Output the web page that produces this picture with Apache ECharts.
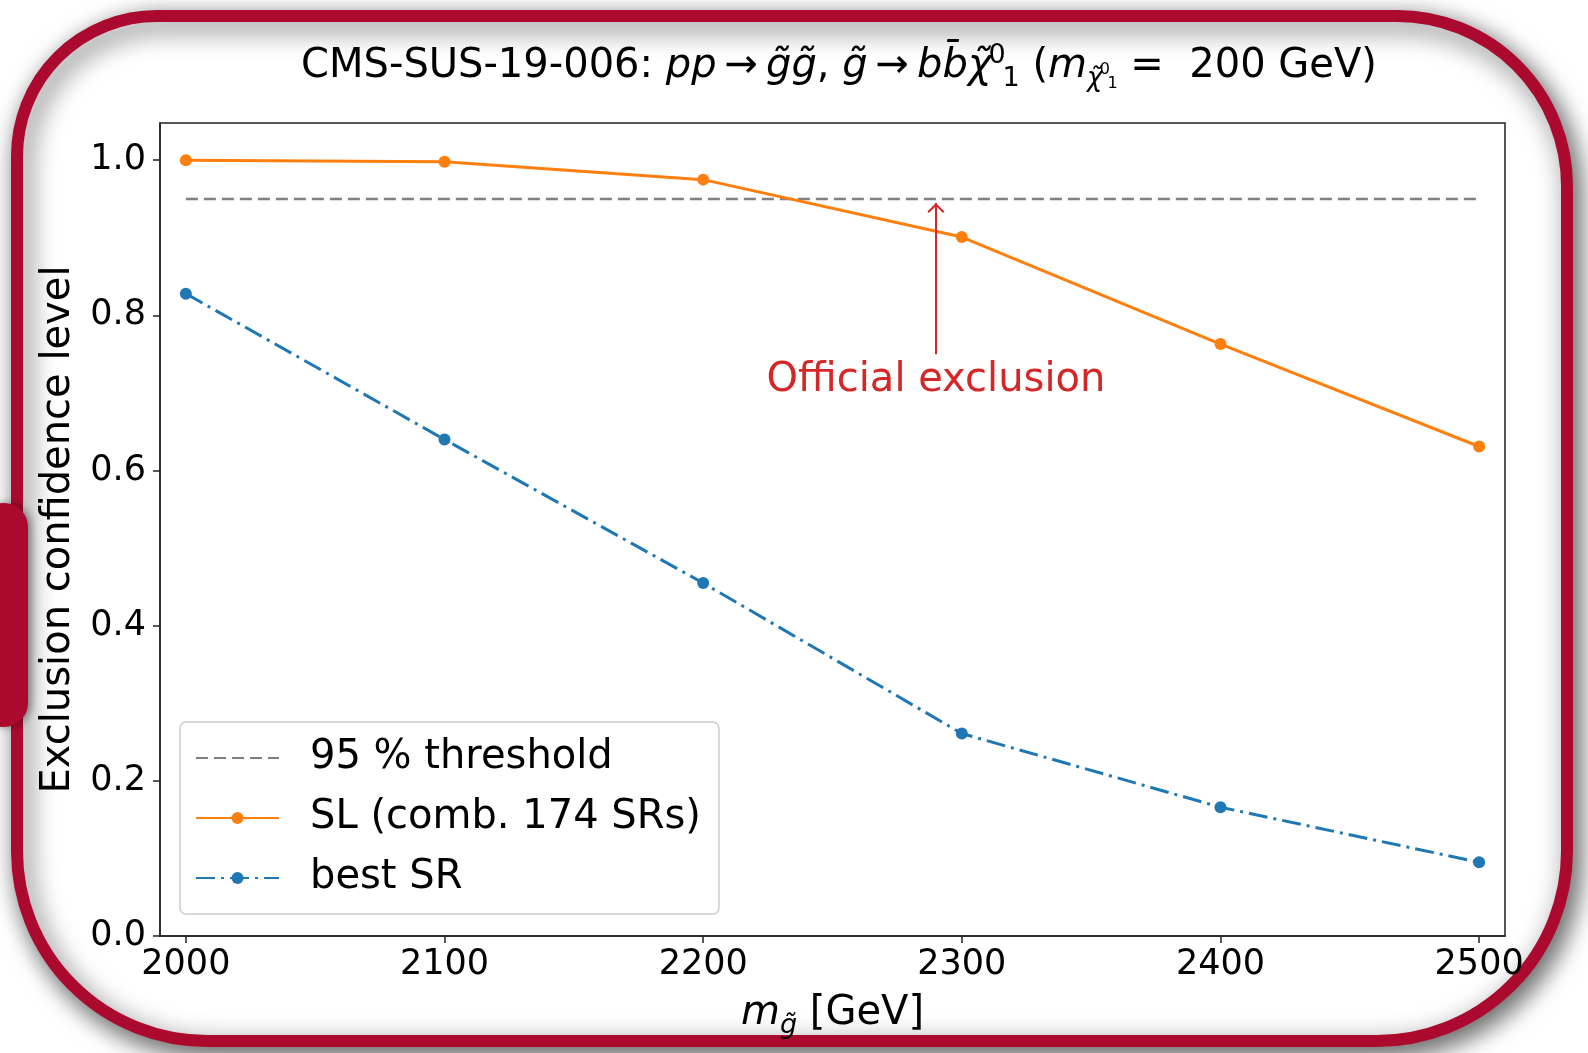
<!DOCTYPE html>
<html>
<head>
<meta charset="utf-8">
<title>CMS-SUS-19-006 exclusion</title>
<script src="https://cdn.jsdelivr.net/npm/echarts@6/dist/echarts.min.js"></script>
<style>
  html, body { margin: 0; padding: 0; background: #fff; }
  #chart1 { width: 1588px; height: 1053px; }
</style>
</head>
<body>
<div id="chart1"></div>
<script>
// gluino masses (GeV)
const massValues = [2000, 2100, 2200, 2300, 2400, 2500];
// exclusion CL, SL combination of 174 SRs
const slValues = [1.0, 0.998, 0.975, 0.901, 0.763, 0.631];
// exclusion CL, best single SR
const bestSrValues = [0.828, 0.640, 0.455, 0.261, 0.166, 0.095];
const thresholdValue = 0.95;
const thresholdRange = [2000, 2500];
const xTicks = [2000, 2100, 2200, 2300, 2400, 2500];
const yTicks = [0.0, 0.2, 0.4, 0.6, 0.8, 1.0];
// "Official exclusion" arrow: x, tail y, head y, text y
const officialX = 2290;
const arrowFromY = 0.75;
const arrowToY = 0.934;
const labelY = 0.716;

const FONT = "DejaVu Sans";
const RED = "#d62728";
const BORDER_RED = "#ab0a2e";

const arrowHead =
  "path://M10,0 L0,10 L1.7,11.7 L11.7,1.7 Z M10,0 L8.3,1.7 L18.3,11.7 L20,10 Z M8.8,0 L8.8,20 L11.2,20 L11.2,0 Z";

const toPairs = (xs, ys) => xs.map((x, i) => [x, ys[i]]);

const txt = (extra) => Object.assign({ fontFamily: FONT, fontWeight: "normal", color: "#000" }, extra);

const getOptionChart1 = () => {
  return {
    animation: false,
    textStyle: { fontFamily: FONT },
    graphic: [
      {
        type: "rect",
        z: -10,
        shape: { x: 17, y: 16, width: 1550, height: 1025, r: [140, 170, 190, 190] },
        style: {
          fill: "#fff",
          stroke: BORDER_RED,
          lineWidth: 12,
          shadowBlur: 26,
          shadowColor: "rgba(0,0,0,0.6)",
          shadowOffsetX: 6,
          shadowOffsetY: 8,
        },
      },
      {
        type: "rect",
        z: -9,
        shape: { x: -20, y: 503, width: 48, height: 224, r: 24 },
        style: {
          fill: BORDER_RED,
          shadowBlur: 8,
          shadowColor: "rgba(0,0,0,0.4)",
          shadowOffsetX: 3,
        },
      },
    ],
    title: {
      left: 834,
      top: 37,
      textAlign: "center",
      text:
        "{n|CMS-SUS-19-006: }{i|pp}{n|\u2009→\u2009}{i|g̃g̃}{n|, }{i|g̃}{n|\u2009→\u2009}{i|bb̄χ̃}{sup|0}{sub|1}{n| (}{i|m}{ms|χ̃}{msup|0}{msub|1}{n| =  200 GeV)}",
      textStyle: {
        fontWeight: "normal",
        rich: {
          n: txt({ fontSize: 40, lineHeight: 50 }),
          i: txt({ fontStyle: "italic", fontSize: 40, lineHeight: 50 }),
          sup: txt({ fontSize: 27, lineHeight: 30, verticalAlign: "top", width: 1, padding: [0, 0, 0, 5] }),
          sub: txt({ fontSize: 27, lineHeight: 30, verticalAlign: "bottom", padding: [0, 0, 0, 5] }),
          ms: txt({ fontStyle: "italic", fontSize: 26, lineHeight: 30, verticalAlign: "bottom" }),
          msup: txt({ fontSize: 16, lineHeight: 16, verticalAlign: "bottom", width: 1, padding: [0, 0, 14, 2] }),
          msub: txt({ fontSize: 16, lineHeight: 16, verticalAlign: "bottom", padding: [0, 0, 0, 2] }),
        },
      },
    },
    legend: {
      orient: "vertical",
      left: 180,
      top: 722,
      padding: [16, 18, 16, 15],
      itemGap: 20,
      itemWidth: 83,
      itemHeight: 15,
      backgroundColor: "rgba(255,255,255,0.8)",
      borderColor: "#cccccc",
      borderWidth: 1.5,
      borderRadius: 6,
      textStyle: {
        fontFamily: FONT,
        fontSize: 40,
        lineHeight: 40,
        color: "#000",
        padding: [0, 0, 0, 26],
      },
      data: [
        { name: "95 % threshold", itemStyle: { color: "rgba(0,0,0,0)", borderWidth: 0 } },
        { name: "SL (comb. 174 SRs)" },
        { name: "best SR" },
      ],
    },
    grid: {
      left: 160,
      right: 83,
      top: 123,
      bottom: 117,
      show: true,
      borderColor: "#222",
      borderWidth: 1.5,
      backgroundColor: "transparent",
    },
    xAxis: {
      type: "value",
      min: 1990,
      max: 2510,
      name: "{i|m}{s|g̃}{n| [GeV]}",
      nameLocation: "middle",
      nameGap: 53,
      nameTextStyle: {
        rich: {
          i: txt({ fontStyle: "italic", fontSize: 40, lineHeight: 50 }),
          s: txt({ fontStyle: "italic", fontSize: 27, lineHeight: 30, verticalAlign: "bottom" }),
          n: txt({ fontSize: 40, lineHeight: 50 }),
        },
      },
      axisLine: { show: true, lineStyle: { color: "#222", width: 1.5 } },
      axisTick: {
        show: true,
        length: 7,
        customValues: xTicks,
        lineStyle: { color: "#222", width: 1.5 },
      },
      axisLabel: {
        customValues: xTicks,
        fontFamily: FONT,
        fontSize: 35,
        color: "#000",
        margin: 11,
        formatter: (v) => String(v),
      },
      splitLine: { show: false },
    },
    yAxis: {
      type: "value",
      min: 0,
      max: 1.048,
      name: "Exclusion confidence level",
      nameLocation: "middle",
      nameRotate: 90,
      nameGap: 81,
      nameTextStyle: { fontFamily: FONT, fontSize: 40, color: "#000" },
      axisLine: { show: true, lineStyle: { color: "#222", width: 1.5 } },
      axisTick: {
        show: true,
        length: 7,
        customValues: yTicks,
        lineStyle: { color: "#222", width: 1.5 },
      },
      axisLabel: {
        customValues: yTicks,
        fontFamily: FONT,
        fontSize: 35,
        color: "#000",
        margin: 14,
        formatter: (v) => v.toFixed(1),
      },
      splitLine: { show: false },
    },
    series: [
      {
        name: "95 % threshold",
        type: "line",
        data: toPairs(thresholdRange, [thresholdValue, thresholdValue]),
        symbol: "none",
        color: "#808080",
        lineStyle: { color: "#808080", width: 2.5, type: [12, 6] },
        silent: true,
      },
      {
        name: "SL (comb. 174 SRs)",
        type: "line",
        data: toPairs(massValues, slValues),
        symbol: "circle",
        symbolSize: 12,
        color: "#ff7f0e",
        lineStyle: { color: "#ff7f0e", width: 3 },
        itemStyle: { color: "#ff7f0e" },
        silent: true,
      },
      {
        name: "best SR",
        type: "line",
        data: toPairs(massValues, bestSrValues),
        symbol: "circle",
        symbolSize: 12,
        color: "#1f77b4",
        lineStyle: { color: "#1f77b4", width: 3, type: [19, 6, 3, 6] },
        itemStyle: { color: "#1f77b4" },
        silent: true,
      },
      {
        name: "annotation",
        type: "line",
        data: [],
        silent: true,
        markLine: {
          silent: true,
          symbol: ["none", arrowHead],
          symbolSize: 17,
          label: { show: false },
          lineStyle: { color: RED, width: 2, type: "solid" },
          data: [[{ coord: [officialX, arrowFromY] }, { coord: [officialX, arrowToY] }]],
        },
        markPoint: {
          silent: true,
          symbol: "rect",
          symbolSize: 1,
          itemStyle: { color: "rgba(0,0,0,0)" },
          label: {
            show: true,
            position: "inside",
            formatter: "Official exclusion",
            fontFamily: FONT,
            fontSize: 40,
            color: RED,
          },
          data: [{ coord: [officialX, labelY] }],
        },
      },
    ],
  };
};

const initCharts = () => {
  const chart1 = echarts.init(document.getElementById("chart1"));
  chart1.setOption(getOptionChart1());
};

window.addEventListener("load", () => {
  initCharts();
});
</script>
</body>
</html>
